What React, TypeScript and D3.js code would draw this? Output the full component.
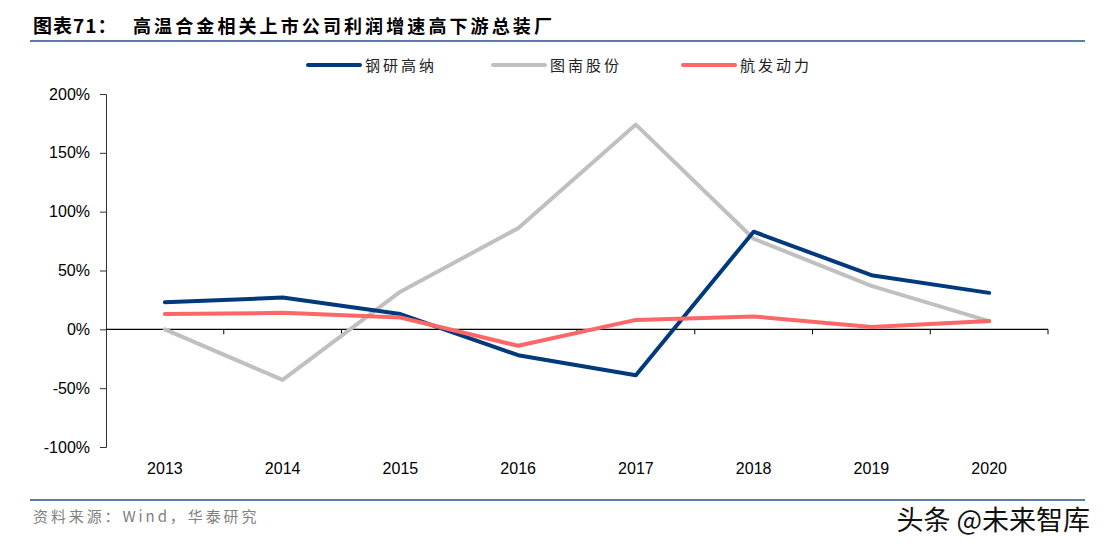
import { useEffect, useRef } from "react";
import * as d3 from "d3";

const years = ["2013", "2014", "2015", "2016", "2017", "2018", "2019", "2020"];
const gangyan = [23, 27, 13, -22, -39, 83, 46, 31];
const tunan = [0, -43, 32, 86, 174, 77, 37, 7];
const hangfa = [13, 14, 10, -14, 8, 11, 2, 7];
const yTicks = [-100, -50, 0, 50, 100, 150, 200];

const series = [
  { name: "钢研高纳", values: gangyan, color: "#003a7c", lx: 308 },
  { name: "图南股份", values: tunan, color: "#c0c0c0", lx: 493 },
  { name: "航发动力", values: hangfa, color: "#fd6767", lx: 683 },
];

export default function App() {
  const svgRef = useRef<SVGSVGElement | null>(null);

  useEffect(() => {
    if (!svgRef.current) return;
    const svg = d3.select(svgRef.current);
    svg.selectAll("*").remove();

    const left = 106, right = 1048, top = 94, bottom = 447;
    const x = d3.scaleBand().domain(years).range([left, right]);
    const y = d3.scaleLinear().domain([-100, 200]).range([bottom, top]);
    const font = "Arial, 'Liberation Sans', sans-serif";
    const cjk = "'Noto Sans CJK SC', sans-serif";

    // title
    svg.append("text").attr("x", 33).attr("y", 33).text("图表71：")
      .attr("font-family", cjk).attr("font-weight", "bold").attr("font-size", 19)
      .attr("letter-spacing", 1).attr("fill", "#000");
    svg.append("text").attr("x", 133).attr("y", 33).text("高温合金相关上市公司利润增速高下游总装厂")
      .attr("font-family", cjk).attr("font-weight", "bold").attr("font-size", 18)
      .attr("letter-spacing", 3.1).attr("fill", "#000");
    svg.append("line").attr("x1", 30).attr("x2", 1085).attr("y1", 41).attr("y2", 41)
      .attr("stroke", "#5b7ea6").attr("stroke-width", 2);

    // legend
    series.forEach(s => {
      svg.append("line").attr("x1", s.lx).attr("x2", s.lx + 52).attr("y1", 65).attr("y2", 65)
        .attr("stroke", s.color).attr("stroke-width", 4).attr("stroke-linecap", "round");
      svg.append("text").attr("x", s.lx + 57).attr("y", 71).text(s.name)
        .attr("font-family", cjk).attr("font-size", 15).attr("letter-spacing", 3)
        .attr("fill", "#222");
    });

    // y axis
    const yAxis = svg.append("g").attr("transform", `translate(${left},0)`)
      .call(d3.axisLeft(y).tickValues(yTicks).tickSize(6).tickPadding(10).tickFormat(d => `${d}%`));
    yAxis.select(".domain").attr("stroke", "#333");
    yAxis.selectAll(".tick line").attr("stroke", "#333");
    yAxis.selectAll("text").attr("font-family", font).attr("font-size", 16).attr("fill", "#000");

    // zero line with category ticks
    const zero = y(0);
    svg.append("line").attr("x1", left).attr("x2", right).attr("y1", zero).attr("y2", zero)
      .attr("stroke", "#000").attr("stroke-width", 1.2);
    years.forEach(yr => {
      const bx = (x(yr) as number) + x.bandwidth();
      svg.append("line").attr("x1", bx).attr("x2", bx).attr("y1", zero).attr("y2", zero + 5)
        .attr("stroke", "#000");
    });

    // x labels
    years.forEach(yr => {
      svg.append("text").attr("x", (x(yr) as number) + x.bandwidth() / 2).attr("y", 474)
        .attr("text-anchor", "middle").text(yr)
        .attr("font-family", font).attr("font-size", 16).attr("fill", "#000");
    });

    // lines
    const line = d3.line<number>()
      .x((_, i) => (x(years[i]) as number) + x.bandwidth() / 2)
      .y(d => y(d));
    [series[1], series[0], series[2]].forEach(s => {
      svg.append("path").attr("d", line(s.values) as string).attr("fill", "none")
        .attr("stroke", s.color).attr("stroke-width", 4).attr("stroke-linejoin", "round")
        .attr("stroke-linecap", "round");
    });

    // footer
    svg.append("line").attr("x1", 30).attr("x2", 1085).attr("y1", 500).attr("y2", 500)
      .attr("stroke", "#5b7ea6").attr("stroke-width", 2);
    svg.append("text").attr("x", 33).attr("y", 522).text("资料来源：Wind，华泰研究")
      .attr("font-family", cjk).attr("font-size", 15).attr("letter-spacing", 2.9)
      .attr("fill", "#808080");
    svg.append("text").attr("x", 1090).attr("y", 530).attr("text-anchor", "end").text("头条 @未来智库")
      .attr("font-family", cjk).attr("font-size", 27).attr("fill", "#111");
  }, []);

  return (
    <svg ref={svgRef} width={1105} height={553}
      style={{ position: "absolute", left: 0, top: 0, background: "#fff" }} />
  );
}
